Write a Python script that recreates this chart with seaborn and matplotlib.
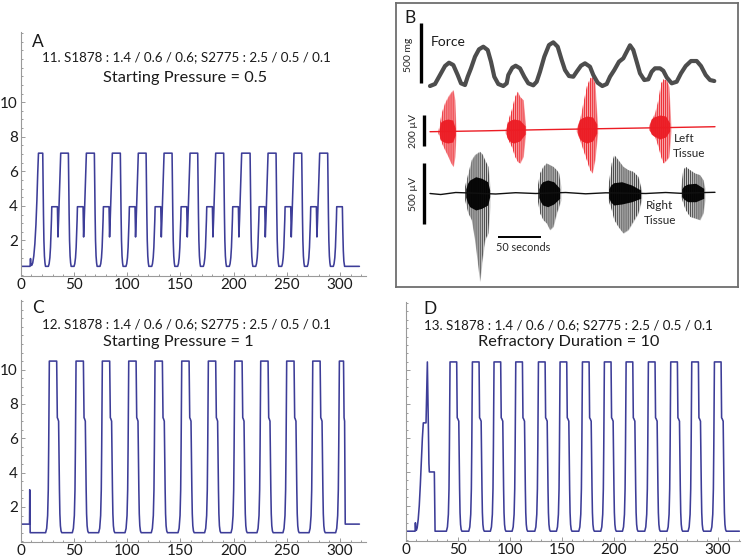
import matplotlib
matplotlib.use("Agg")
import matplotlib.pyplot as plt
from matplotlib.ticker import MultipleLocator, FixedLocator
import numpy as np
import pandas as pd
import seaborn as sns

sns.set_style("ticks")
plt.rcParams['font.family'] = ['Lato', 'DejaVu Sans']
plt.rcParams['hatch.linewidth'] = 0.6

LINE = "#3d3d98"

# ---------------- Panel A data (Starting Pressure = 0.5) ----------------
a_head_t = [0, 8.8, 9.2, 9.6, 10.3, 11.3, 12.3, 13.3, 14.3, 15.2, 16.0, 16.7]
a_head_y = [0.5, 0.5, 0.95, 0.6, 0.55, 0.7, 1.1, 1.8, 2.9, 4.3, 5.9, 7.05]
a_cycle_dt = [0, 0.3, 0.7, 1.1, 1.6, 2.1, 2.6, 5.3, 6.0, 6.7, 7.3, 7.8, 8.2, 8.5,
              13.8, 14.3, 14.9, 15.6, 16.3, 16.9]
a_cycle_y = [7.05, 5.5, 3.5, 2.0, 1.1, 0.7, 0.5, 0.5, 0.65, 1.0, 1.6, 2.4, 3.2, 3.95,
             3.95, 2.2, 3.2, 4.6, 6.0, 7.05]
a_starts = [20.7, 44.8, 69.2, 93.6, 117.8, 142.2, 166.3, 190.7, 215.5, 239.9, 264.0]
a_tail_t = [288.4, 288.7, 289.1, 289.5, 290.0, 290.5, 291.0, 293.7, 294.4, 295.1, 295.7,
            296.2, 296.6, 296.9, 302.2, 302.6, 303.1, 303.6, 304.3, 318.2]
a_tail_y = [7.05, 5.5, 3.5, 2.0, 1.1, 0.7, 0.5, 0.5, 0.65, 1.0, 1.6,
            2.4, 3.2, 3.95, 3.95, 2.6, 1.4, 0.8, 0.5, 0.5]

# ---------------- Panel C data (Starting Pressure = 1) ----------------
c_head_t = [0, 8.3, 8.5, 8.9]
c_head_y = [1.0, 1.0, 3.0, 0.5]
c_cycle_dt = [0, 1.0, 1.9, 2.5, 2.9, 3.2, 3.5, 10.4, 11.0, 11.4, 12.2, 12.6, 13.0,
              13.4, 13.9, 14.5, 15.2]
c_cycle_y = [0.5, 0.75, 1.5, 3.0, 5.5, 8.3, 10.5, 10.5, 7.2, 7.15, 7.0, 5.0, 3.0,
             1.6, 0.9, 0.6, 0.5]
c_starts = [23.4, 48.5, 73.2, 98.0, 122.7, 147.8, 172.8, 197.6, 222.0, 246.4, 270.9]
c_tail_t = [295.9, 296.9, 297.8, 298.4, 298.8, 299.1, 299.4, 303.3, 303.8, 304.3,
            304.6, 304.9, 318.2]
c_tail_y = [0.5, 0.75, 1.5, 3.0, 5.5, 8.3, 10.5, 10.5, 7.2, 7.0, 3.5, 1.0, 1.0]

# ---------------- Panel D data (Refractory Duration = 10) ----------------
d_head_t = [0, 9.0, 9.3, 9.7, 10.2, 11.0, 12.0, 13.0, 14.0, 15.0, 16.0, 16.9, 19.5,
            20.8, 22.3, 22.7, 27.5, 28.2]
d_head_y = [0.5, 0.5, 1.0, 0.6, 0.55, 0.7, 1.2, 2.0, 3.2, 4.6, 6.0, 6.9, 6.9,
            10.5, 4.5, 4.0, 4.0, 0.5]
d_cycle_dt = [0, 1.0, 1.9, 2.5, 2.9, 3.2, 3.5, 9.9, 10.4, 10.9, 11.9, 12.3, 12.7,
              13.1, 13.6, 14.2, 14.9]
d_cycle_y = [0.5, 0.75, 1.5, 3.0, 5.5, 8.3, 10.5, 10.5, 7.2, 7.15, 7.0, 5.0, 3.0,
             1.6, 0.9, 0.6, 0.5]
d_starts = [39.1, 60.6, 81.4, 102.3, 124.1, 144.9, 166.4, 187.5, 208.4, 229.8,
            251.3, 271.5, 293.3]
d_tail_t = [320.8]
d_tail_y = [0.5]

x_ticks = [0, 50, 100, 150, 200, 250, 300]
y_ticks = [2, 4, 6, 8, 10]

# ---------------- Panel B data (box pixel coordinates, y downward) ----------------
force_x = [34.3, 39.3, 44.3, 49.3, 53.3, 57.6, 62, 65.3, 69.3, 72, 75.3, 79.3, 83.3, 87.6,
           92, 95.3, 98.6, 102.6, 107.6, 111, 112.6, 116.6, 120, 124.3, 128.6, 132.6,
           137.6, 141, 144.3, 148.6, 153.3, 157.6, 162, 166, 169.3, 173.3, 177.6, 181,
           185.3, 189.3, 194.3, 197.6, 202, 206.6, 211, 214.3, 218.6, 223.3, 227.6, 231,
           234.3, 237.6, 241, 244.3, 248.6, 252.6, 256, 259.3, 264.3, 267.6, 271, 276,
           281, 285.3, 290, 295.3, 301, 305.3, 310, 314.3, 318.6]
force_y = [83, 81, 72, 63, 59.7, 62, 72, 80.3, 82, 73.7, 65.3, 53.7, 46.3, 43.7,
           47, 58.7, 73.7, 81, 83, 80.3, 72, 64.7, 62.7, 65.3, 73.7, 80.3,
           82.3, 78.7, 68.7, 53.7, 42, 39.3, 43.7, 57, 67, 73, 73.7, 68.7,
           62.7, 60.3, 63.7, 72, 79.7, 83, 81, 73.7, 67, 58.7, 55.3, 48.7,
           42.3, 47, 58.7, 70.3, 77, 76.3, 68.7, 65.3, 65.3, 67.7, 74.3, 80.3,
           78.7, 70.3, 63, 58, 58, 63, 72, 77, 78]

red_base_x = [34.3, 90, 150, 210, 270, 319.3]
red_base_y = [128.7, 127.8, 126.6, 125.6, 124.6, 123.7]

red_bursts = [
    dict(x=[42.6, 46, 49.3, 52.6, 55.3, 57.6, 59.3, 60.3],
         top=[128.7, 110, 100, 93.7, 89.7, 87, 97, 127],
         bot=[130.3, 140, 147, 153.7, 160, 163.7, 153.7, 132],
         cx=[43.5, 45, 48, 52, 57, 59.5], ctop=[126, 119, 117, 116, 117, 125],
         cbot=[131, 137, 139, 140, 139, 132]),
    dict(x=[110, 112.6, 116, 119.3, 122, 124.3, 127.6, 130],
         top=[127, 117, 107, 93.7, 88.7, 93.7, 97, 123.7],
         bot=[130.3, 137, 143.7, 153.7, 158.7, 160.3, 153.7, 130.3],
         cx=[110.5, 112, 115, 118, 124, 129.5], ctop=[125, 119, 117, 116, 117, 123],
         cbot=[131, 136, 139, 140, 138, 131]),
    dict(x=[181, 184.3, 187.6, 191, 194.3, 196.6, 199.3, 202],
         top=[125.3, 117, 100.3, 83.7, 75.3, 73.7, 80.3, 123.7],
         bot=[128.7, 137, 147, 157, 167, 170.3, 157, 130.3],
         cx=[182, 183.5, 186, 191, 197, 201], ctop=[123, 117, 115, 113, 114, 121],
         cbot=[130, 135, 138, 140, 138, 130]),
    dict(x=[253.3, 256, 259.3, 262.6, 265.3, 267.6, 271, 273.3, 275.3],
         top=[122.7, 117, 110.3, 97, 80.3, 76.3, 77, 83.7, 123.7],
         bot=[127, 130.3, 133.7, 143.7, 153.7, 160.3, 157, 153.7, 128.7],
         cx=[254, 255.5, 258, 264, 270, 274], ctop=[121, 116, 114, 112, 113, 120],
         cbot=[127, 131, 133, 136, 134, 128]),
]

black_base_x = [34.3, 45, 60, 75, 100, 120, 140, 170, 190, 210, 250, 270, 285, 310, 319.3]
black_base_y = [190.5, 191.5, 189.5, 190, 191, 189.7, 190.5, 189.5, 190.8, 189.8, 190.5,
                189.5, 190.3, 189.5, 189.3]

black_bursts = [
    dict(x=[69.3, 72.6, 76, 79.3, 82.6, 84.3, 86.6, 89.3, 92.6, 94.3],
         top=[183.7, 170.3, 157, 152, 149.7, 148.7, 151, 157, 163.7, 183.7],
         bot=[197, 210.3, 217, 237, 263.7, 278.7, 257, 237, 230.3, 203.7],
         cx=[70, 72, 74, 80, 86, 92, 94], ctop=[186, 180, 177, 173.7, 175.3, 178.7, 187],
         cbot=[194, 200, 203.7, 207, 205.3, 202, 193.7]),
    dict(x=[142, 144.3, 147.6, 151, 154.3, 157.6, 161, 163.3, 165.3],
         top=[183.7, 170.3, 163.7, 160.3, 162, 163.7, 167, 170.3, 183.7],
         bot=[197, 210.3, 217, 220.3, 227, 223.7, 210.3, 203.7, 197],
         cx=[143, 145, 147, 152, 158, 164], ctop=[186, 181, 178.7, 177, 178.7, 185.3],
         cbot=[194.5, 199, 202, 203.7, 201, 195.3]),
    dict(x=[212.6, 216, 218.6, 222.6, 227.6, 232.6, 237.6, 242.6, 246],
         top=[183.7, 160.3, 152, 157, 163.7, 167, 168.7, 173.7, 187],
         bot=[197, 207, 217, 223.7, 230.3, 227, 218.7, 210.3, 197],
         cx=[213, 215, 218, 226, 236, 245], ctop=[186, 182, 179.7, 178.7, 182, 187],
         cbot=[195, 199, 202, 201, 198.7, 195.3]),
    dict(x=[285.3, 287.6, 290, 294.3, 299.3, 304.3, 307.6, 309.3],
         top=[183.7, 167, 163.7, 167, 170.3, 172, 177, 185.3],
         bot=[193.7, 200.3, 207, 213.7, 215.3, 217, 210.3, 197],
         cx=[286, 288, 292, 300, 308], ctop=[186, 183, 181, 180.3, 185.3],
         cbot=[193.5, 196, 198.7, 198.7, 195.3]),
]


def build(head_t, head_y, cyc_dt, cyc_y, starts, tail_t, tail_y):
    t = list(head_t)
    y = list(head_y)
    for s in starts:
        t += [s + d for d in cyc_dt]
        y += list(cyc_y)
    t += list(tail_t)
    y += list(tail_y)
    return pd.DataFrame({"t": t, "p": y})


fig = plt.figure(figsize=(7.49, 5.6), dpi=100)

ax_a = fig.add_axes([0.02764, 0.5071, 0.4610, 0.4357])
ax_c = fig.add_axes([0.02764, 0.0316, 0.4610, 0.4327])
ax_d = fig.add_axes([0.5417, 0.0345, 0.4463, 0.4268])
ax_b = fig.add_axes([0.5283, 0.4875, 0.4566, 0.5071])

GRAY = "#9a9a9a"


def style(ax, xmax, ylabels=True):
    sns.despine(ax=ax)
    ax.set_xlim(0, xmax)
    ax.set_ylim(-0.06, 14.06)
    for s in ["left", "bottom"]:
        ax.spines[s].set_color(GRAY)
        ax.spines[s].set_linewidth(0.8)
    ax.xaxis.set_major_locator(FixedLocator(x_ticks))
    ax.xaxis.set_minor_locator(MultipleLocator(10))
    ax.yaxis.set_major_locator(FixedLocator(y_ticks))
    ax.yaxis.set_minor_locator(MultipleLocator(0.5))
    ax.tick_params(which="both", direction="in", color=GRAY, width=0.7)
    ax.tick_params(which="major", length=3)
    ax.tick_params(which="minor", length=1.7)
    ax.tick_params(axis="both", labelsize=11, labelcolor="#1a1a1a")
    ax.tick_params(axis="x", pad=1.5)
    ax.tick_params(axis="y", pad=2.0)
    if not ylabels:
        ax.set_yticklabels([])
    ax.set_xlabel("")
    ax.set_ylabel("")


panels = [
    (ax_a, build(a_head_t, a_head_y, a_cycle_dt, a_cycle_y, a_starts, a_tail_t, a_tail_y),
     324.4, True, "A", 10.6, 13.5,
     "11. S1878 : 1.4 / 0.6 / 0.6; S2775 : 2.5 / 0.5 / 0.1", 155.3, 12.6,
     "Starting Pressure = 0.5", 154.8, 11.38),
    (ax_c, build(c_head_t, c_head_y, c_cycle_dt, c_cycle_y, c_starts, c_tail_t, c_tail_y),
     324.4, True, "C", 10.3, 13.58,
     "12. S1878 : 1.4 / 0.6 / 0.6; S2775 : 2.5 / 0.5 / 0.1", 155.5, 12.65,
     "Starting Pressure = 1", 148.5, 11.6),
    (ax_d, build(d_head_t, d_head_y, d_cycle_dt, d_cycle_y, d_starts, d_tail_t, d_tail_y),
     321.4, False, "D", 16.6, 13.64,
     "13. S1878 : 1.4 / 0.6 / 0.6; S2775 : 2.5 / 0.5 / 0.1", 156.8, 12.68,
     "Refractory Duration = 10", 156.2, 11.67),
]

for ax, df, xmax, ylab, letter, lx, ly, t1, t1x, t1y, t2, t2x, t2y in panels:
    sns.lineplot(data=df, x="t", y="p", sort=False, estimator=None, color=LINE,
                 linewidth=1.15, ax=ax)
    style(ax, xmax, ylab)
    ax.text(lx, ly, letter, fontsize=12.5, color="#1a1a1a", ha="left", va="center")
    ax.text(t1x, t1y, t1, fontsize=9.6, color="#1a1a1a", ha="center", va="center")
    ax.text(t2x, t2y, t2, fontsize=11.8, color="#1a1a1a", ha="center", va="center")

# ---------------- Panel B ----------------
ax_b.set_xlim(0, 342)
ax_b.set_ylim(284, 0)
ax_b.set_xticks([])
ax_b.set_yticks([])
for s in ax_b.spines.values():
    s.set_color("#6e6e6e")
    s.set_linewidth(1.3)

RED = "#ec1c24"
for b in red_bursts:
    ax_b.fill_between(b["x"], b["top"], b["bot"], color=RED, alpha=0.4, linewidth=0)
    ax_b.fill_between(b["x"], b["top"], b["bot"], facecolor="none", edgecolor=RED,
                      hatch="||||||||", linewidth=0)
    ax_b.fill_between(b["cx"], b["ctop"], b["cbot"], color=RED, alpha=0.95, linewidth=0)
sns.lineplot(x=red_base_x, y=red_base_y, sort=False, estimator=None, color=RED,
             linewidth=1.0, ax=ax_b)

for b in black_bursts:
    ax_b.fill_between(b["x"], b["top"], b["bot"], color="#7a7a7a", alpha=0.4, linewidth=0)
    ax_b.fill_between(b["x"], b["top"], b["bot"], facecolor="none", edgecolor="#333333",
                      hatch="||||||||", linewidth=0)
    ax_b.fill_between(b["cx"], b["ctop"], b["cbot"], color="#000000", alpha=0.95, linewidth=0)
sns.lineplot(x=black_base_x, y=black_base_y, sort=False, estimator=None, color="#111111",
             linewidth=1.0, ax=ax_b)

sns.lineplot(x=force_x, y=force_y, sort=False, estimator=None, color="#4d4d4d",
             linewidth=3.0, ax=ax_b, solid_capstyle="round", solid_joinstyle="round")

# scale bars
ax_b.plot([25, 25], [20.3, 79.7], color="black", lw=2.4, solid_capstyle="butt")
ax_b.plot([28.3, 28.3], [112, 143], color="black", lw=2.4, solid_capstyle="butt")
ax_b.plot([28.3, 28.3], [159.7, 221], color="black", lw=2.4, solid_capstyle="butt")
ax_b.plot([102, 145], [234.3, 234.3], color="black", lw=1.4, solid_capstyle="butt")

ax_b.text(14.3, 15.3, "B", fontsize=12.5, ha="center", va="center", color="#1a1a1a")
ax_b.text(52.6, 38.7, "Force", fontsize=10, ha="center", va="center", color="#1a1a1a")
ax_b.text(12.6, 52, "500 mg", fontsize=7.5, rotation=90, ha="center", va="center")
ax_b.text(17.6, 127.7, "200 µV", fontsize=7.5, rotation=90, ha="center", va="center")
ax_b.text(17.6, 191, "500 µV", fontsize=7.5, rotation=90, ha="center", va="center")
ax_b.text(278.6, 135.3, "Left", fontsize=8.5, ha="left", va="center")
ax_b.text(277, 150.3, "Tissue", fontsize=8.5, ha="left", va="center")
ax_b.text(250, 202, "Right", fontsize=8.5, ha="left", va="center")
ax_b.text(248.6, 217, "Tissue", fontsize=8.5, ha="left", va="center")
ax_b.text(127.6, 244.3, "50 seconds", fontsize=7.8, ha="center", va="center")

fig.savefig("out.png", dpi=100)
